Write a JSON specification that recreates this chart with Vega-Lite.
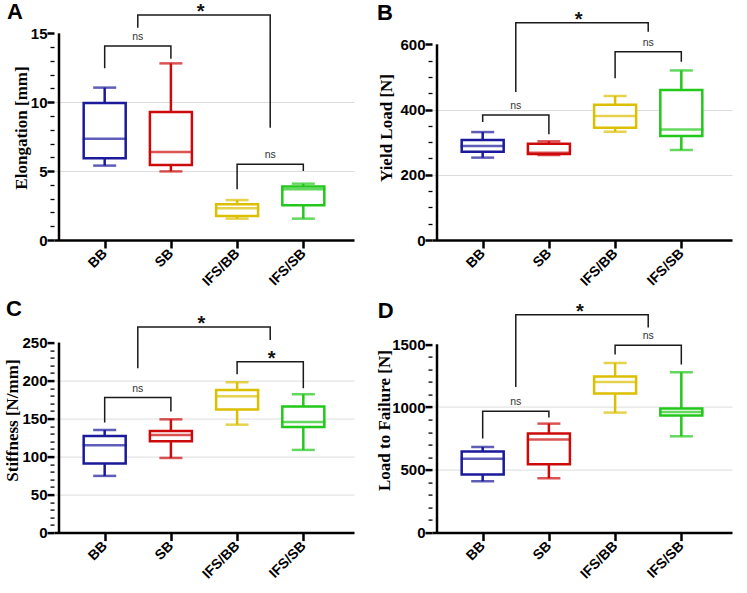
{
  "$schema": "https://vega.github.io/schema/vega-lite/v6.json",
  "background": "white",
  "padding": {"top": 1, "left": 3, "right": 5, "bottom": 5},
  "config": {
    "view": {"stroke": null},
    "axis": {
      "labelFont": "Liberation Sans", "labelFontWeight": "bold", "labelFontSize": 15, "labelColor": "black",
      "tickColor": "black", "domainColor": "black", "domainWidth": 2.5,
      "titleFont": "Liberation Serif", "titleFontSize": 17, "titleFontWeight": "bold", "titleColor": "black",
      "gridColor": "#dddddd", "gridWidth": 1, "labelOverlap": false
    },
    "title": {"font": "Liberation Sans", "fontSize": 22, "fontWeight": "bold", "color": "black", "anchor": "start", "frame": "group"}
  },
  "datasets": {
    "boxes": [
      {"panel": "A", "group": "BB", "idx": 1, "min": 5.4, "q1": 5.93, "median": 7.35, "q3": 9.94, "max": 11.06},
      {"panel": "A", "group": "SB", "idx": 2, "min": 4.98, "q1": 5.44, "median": 6.39, "q3": 9.29, "max": 12.82},
      {"panel": "A", "group": "IFS/BB", "idx": 3, "min": 1.55, "q1": 1.74, "median": 2.3, "q3": 2.59, "max": 2.9},
      {"panel": "A", "group": "IFS/SB", "idx": 4, "min": 1.55, "q1": 2.52, "median": 3.68, "q3": 3.88, "max": 4.09},
      {"panel": "B", "group": "BB", "idx": 1, "min": 252.6, "q1": 271, "median": 288.2, "q3": 306.6, "max": 331},
      {"panel": "B", "group": "SB", "idx": 2, "min": 260.6, "q1": 263.7, "median": 267.8, "q3": 295.5, "max": 302.6},
      {"panel": "B", "group": "IFS/BB", "idx": 3, "min": 332, "q1": 344.5, "median": 380, "q3": 415, "max": 441.6},
      {"panel": "B", "group": "IFS/SB", "idx": 4, "min": 276, "q1": 319, "median": 339, "q3": 460, "max": 520},
      {"panel": "C", "group": "BB", "idx": 1, "min": 74.6, "q1": 90.8, "median": 114.9, "q3": 127.2, "max": 135},
      {"panel": "C", "group": "SB", "idx": 2, "min": 98.2, "q1": 120.2, "median": 128.5, "q3": 133.8, "max": 149},
      {"panel": "C", "group": "IFS/BB", "idx": 3, "min": 142, "q1": 161.8, "median": 179.4, "q3": 187.7, "max": 197.8},
      {"panel": "C", "group": "IFS/SB", "idx": 4, "min": 108.8, "q1": 139, "median": 145.6, "q3": 165.8, "max": 182},
      {"panel": "D", "group": "BB", "idx": 1, "min": 409, "q1": 462, "median": 589, "q3": 645, "max": 682},
      {"panel": "D", "group": "SB", "idx": 2, "min": 432.7, "q1": 544, "median": 740.7, "q3": 788.5, "max": 868},
      {"panel": "D", "group": "IFS/BB", "idx": 3, "min": 955.8, "q1": 1107, "median": 1200, "q3": 1242.5, "max": 1351},
      {"panel": "D", "group": "IFS/SB", "idx": 4, "min": 767, "q1": 932, "median": 961, "q3": 987.6, "max": 1277}
    ],
    "axisline": [
      {"panel": "A", "bottom": 0, "top": 15}, {"panel": "B", "bottom": 0, "top": 600}, {"panel": "C", "bottom": 0, "top": 250}, {"panel": "D", "bottom": 0, "top": 1500}
    ],
    "brackets": [
      {"panel": "A", "id": "a1", "o": 1, "x": 1, "y": 12.46}, {"panel": "A", "id": "a1", "o": 2, "x": 1, "y": 14.08}, {"panel": "A", "id": "a1", "o": 3, "x": 2, "y": 14.08}, {"panel": "A", "id": "a1", "o": 4, "x": 2, "y": 13.16},
      {"panel": "A", "id": "a2", "o": 1, "x": 1.5, "y": 15.41}, {"panel": "A", "id": "a2", "o": 2, "x": 1.5, "y": 16.33}, {"panel": "A", "id": "a2", "o": 3, "x": 3.5, "y": 16.33}, {"panel": "A", "id": "a2", "o": 4, "x": 3.5, "y": 8.15},
      {"panel": "A", "id": "a3", "o": 1, "x": 3, "y": 3.68}, {"panel": "A", "id": "a3", "o": 2, "x": 3, "y": 5.49}, {"panel": "A", "id": "a3", "o": 3, "x": 4, "y": 5.49}, {"panel": "A", "id": "a3", "o": 4, "x": 4, "y": 5.0},
      {"panel": "B", "id": "b1", "o": 1, "x": 1, "y": 362}, {"panel": "B", "id": "b1", "o": 2, "x": 1, "y": 383}, {"panel": "B", "id": "b1", "o": 3, "x": 2, "y": 383}, {"panel": "B", "id": "b1", "o": 4, "x": 2, "y": 324},
      {"panel": "B", "id": "b2", "o": 1, "x": 1.5, "y": 454}, {"panel": "B", "id": "b2", "o": 2, "x": 1.5, "y": 666}, {"panel": "B", "id": "b2", "o": 3, "x": 3.5, "y": 666}, {"panel": "B", "id": "b2", "o": 4, "x": 3.5, "y": 639},
      {"panel": "B", "id": "b3", "o": 1, "x": 3, "y": 496}, {"panel": "B", "id": "b3", "o": 2, "x": 3, "y": 577.5}, {"panel": "B", "id": "b3", "o": 3, "x": 4, "y": 577.5}, {"panel": "B", "id": "b3", "o": 4, "x": 4, "y": 547},
      {"panel": "C", "id": "c1", "o": 1, "x": 1, "y": 144.7}, {"panel": "C", "id": "c1", "o": 2, "x": 1, "y": 177.6}, {"panel": "C", "id": "c1", "o": 3, "x": 2, "y": 177.6}, {"panel": "C", "id": "c1", "o": 4, "x": 2, "y": 159.2},
      {"panel": "C", "id": "c2", "o": 1, "x": 1.5, "y": 216.2}, {"panel": "C", "id": "c2", "o": 2, "x": 1.5, "y": 270.6}, {"panel": "C", "id": "c2", "o": 3, "x": 3.5, "y": 270.6}, {"panel": "C", "id": "c2", "o": 4, "x": 3.5, "y": 253.5},
      {"panel": "C", "id": "c3", "o": 1, "x": 3, "y": 208.3}, {"panel": "C", "id": "c3", "o": 2, "x": 3, "y": 224.6}, {"panel": "C", "id": "c3", "o": 3, "x": 4, "y": 224.6}, {"panel": "C", "id": "c3", "o": 4, "x": 4, "y": 190},
      {"panel": "D", "id": "d1", "o": 1, "x": 1, "y": 749}, {"panel": "D", "id": "d1", "o": 2, "x": 1, "y": 966}, {"panel": "D", "id": "d1", "o": 3, "x": 2, "y": 966}, {"panel": "D", "id": "d1", "o": 4, "x": 2, "y": 916},
      {"panel": "D", "id": "d2", "o": 1, "x": 1.5, "y": 1160}, {"panel": "D", "id": "d2", "o": 2, "x": 1.5, "y": 1736}, {"panel": "D", "id": "d2", "o": 3, "x": 3.5, "y": 1736}, {"panel": "D", "id": "d2", "o": 4, "x": 3.5, "y": 1633},
      {"panel": "D", "id": "d3", "o": 1, "x": 3, "y": 1418}, {"panel": "D", "id": "d3", "o": 2, "x": 3, "y": 1492}, {"panel": "D", "id": "d3", "o": 3, "x": 4, "y": 1492}, {"panel": "D", "id": "d3", "o": 4, "x": 4, "y": 1338}
    ],
    "labels": [
      {"panel": "A", "x": 1.5, "y": 14.08, "label": "ns"}, {"panel": "A", "x": 2.45, "y": 16.33, "label": "*"}, {"panel": "A", "x": 3.5, "y": 5.49, "label": "ns"},
      {"panel": "B", "x": 1.5, "y": 383, "label": "ns"}, {"panel": "B", "x": 2.45, "y": 666, "label": "*"}, {"panel": "B", "x": 3.5, "y": 577.5, "label": "ns"},
      {"panel": "C", "x": 1.5, "y": 177.6, "label": "ns"}, {"panel": "C", "x": 2.46, "y": 270.6, "label": "*"}, {"panel": "C", "x": 3.52, "y": 224.6, "label": "*"},
      {"panel": "D", "x": 1.5, "y": 966, "label": "ns"}, {"panel": "D", "x": 2.47, "y": 1736, "label": "*"}, {"panel": "D", "x": 3.5, "y": 1492, "label": "ns"}
    ]
  },
  "columns": 2,
  "spacing": {"row": 67.6, "column": 78},
  "bounds": "flush",
  "concat": [
    {
      "width": 300, "height": 225,
      "title": {"text": "A", "dx": -47, "dy": 26.3},
      "layer": [
        {"data": {"name": "boxes"}, "transform": [{"filter": "datum.panel === 'A'"}],
         "mark": {"type": "rule", "strokeWidth": 2.5},
         "encoding": {
           "x": {"field": "idx", "type": "quantitative", "scale": {"domain": [0.31, 4.69], "nice": false, "zero": false},
                 "axis": {"values": [1, 2, 3, 4], "tickCount": 100, "labelExpr": "['','BB','SB','IFS/BB','IFS/SB'][datum.value]", "labelAngle": -45, "labelAlign": "right", "labelBaseline": "middle", "labelFontSize": 14, "labelPadding": 3, "tickSize": 8, "tickWidth": 2.5, "grid": false, "title": null}},
           "y": {"field": "min", "type": "quantitative", "scale": {"domain": [0, 16.33], "nice": false},
                 "axis": {"title": "Elongation [mm]", "titlePadding": 0, "domain": false, "labelPadding": 0, "tickCount": 100, "format": "d",
                          "values": [0,1,2,3,4,5,6,7,8,9,10,11,12,13,14,15],
                          "labelExpr": "datum.value % 5 === 0 ? datum.label : ''",
                          "tickSize": {"condition": {"test": "datum.value % 5 === 0", "value": 7}, "value": 4},
                          "tickWidth": {"condition": {"test": "datum.value % 5 === 0", "value": 2.5}, "value": 1.3},
                          "grid": true,
                          "gridOpacity": {"condition": {"test": "datum.value % 5 === 0 && datum.value > 0 && datum.value < 15", "value": 1}, "value": 0}}},
           "y2": {"field": "max"},
           "color": {"field": "group", "type": "nominal", "scale": {"domain": ["BB", "SB", "IFS/BB", "IFS/SB"], "range": ["#1a1a9a", "#cc0a0a", "#dcbf00", "#22c81a"]}, "legend": null}
         }},
        {"data": {"name": "boxes"}, "transform": [{"filter": "datum.panel === 'A'"}],
         "mark": {"type": "bar", "width": 42, "fill": "white", "strokeWidth": 2.5},
         "encoding": {
           "x": {"field": "idx", "type": "quantitative"},
           "y": {"field": "q1", "type": "quantitative"},
           "y2": {"field": "q3"},
           "stroke": {"field": "group", "type": "nominal", "scale": {"domain": ["BB", "SB", "IFS/BB", "IFS/SB"], "range": ["#1a1a9a", "#cc0a0a", "#dcbf00", "#22c81a"]}, "legend": null}
         }},
        {"data": {"name": "boxes"}, "transform": [{"filter": "datum.panel === 'A'"}],
         "mark": {"type": "tick", "orient": "horizontal", "size": 44, "thickness": 2.5},
         "encoding": {"x": {"field": "idx", "type": "quantitative"}, "y": {"field": "median", "type": "quantitative"}, "color": {"field": "group", "type": "nominal", "legend": null}}},
        {"data": {"name": "boxes"}, "transform": [{"filter": "datum.panel === 'A'"}],
         "mark": {"type": "tick", "orient": "horizontal", "size": 23, "thickness": 2.5},
         "encoding": {"x": {"field": "idx", "type": "quantitative"}, "y": {"field": "min", "type": "quantitative"}, "color": {"field": "group", "type": "nominal", "legend": null}}},
        {"data": {"name": "boxes"}, "transform": [{"filter": "datum.panel === 'A'"}],
         "mark": {"type": "tick", "orient": "horizontal", "size": 23, "thickness": 2.5},
         "encoding": {"x": {"field": "idx", "type": "quantitative"}, "y": {"field": "max", "type": "quantitative"}, "color": {"field": "group", "type": "nominal", "legend": null}}},
        {"data": {"name": "axisline"}, "transform": [{"filter": "datum.panel === 'A'"}],
         "mark": {"type": "rule", "color": "black", "strokeWidth": 2.5},
         "encoding": {"x": {"datum": 0.31, "type": "quantitative"}, "y": {"field": "bottom", "type": "quantitative"}, "y2": {"field": "top"}}},
        {"data": {"name": "brackets"}, "transform": [{"filter": "datum.panel === 'A'"}],
         "mark": {"type": "line", "color": "#1a1a1a", "strokeWidth": 1.5, "clip": false},
         "encoding": {"x": {"field": "x", "type": "quantitative"}, "y": {"field": "y", "type": "quantitative"}, "detail": {"field": "id"}, "order": {"field": "o"}}},
        {"data": {"name": "labels"}, "transform": [{"filter": "datum.panel === 'A' && datum.label === 'ns'"}],
         "mark": {"type": "text", "font": "Liberation Sans", "fontSize": 10.5, "color": "#333333", "baseline": "alphabetic", "dy": -6},
         "encoding": {"x": {"field": "x", "type": "quantitative"}, "y": {"field": "y", "type": "quantitative"}, "text": {"field": "label"}}},
        {"data": {"name": "labels"}, "transform": [{"filter": "datum.panel === 'A' && datum.label === '*'"}],
         "mark": {"type": "text", "font": "Liberation Sans", "fontSize": 20, "fontWeight": "bold", "color": "#111111", "baseline": "alphabetic", "dy": 3},
         "encoding": {"x": {"field": "x", "type": "quantitative"}, "y": {"field": "y", "type": "quantitative"}, "text": {"field": "label"}}}
      ]
    },
    {
      "width": 300, "height": 225,
      "title": {"text": "B", "dx": -55, "dy": 19.3},
      "layer": [
        {"data": {"name": "boxes"}, "transform": [{"filter": "datum.panel === 'B'"}],
         "mark": {"type": "rule", "strokeWidth": 2.5},
         "encoding": {
           "x": {"field": "idx", "type": "quantitative", "scale": {"domain": [0.31, 4.69], "nice": false, "zero": false},
                 "axis": {"values": [1, 2, 3, 4], "tickCount": 100, "labelExpr": "['','BB','SB','IFS/BB','IFS/SB'][datum.value]", "labelAngle": -45, "labelAlign": "right", "labelBaseline": "middle", "labelFontSize": 14, "labelPadding": 3, "tickSize": 8, "tickWidth": 2.5, "grid": false, "title": null}},
           "y": {"field": "min", "type": "quantitative", "scale": {"domain": [0, 690], "nice": false},
                 "axis": {"title": "Yield Load [N]", "titlePadding": 4.5, "domain": false, "labelPadding": 0, "tickCount": 100, "format": "d",
                          "values": [0,50,100,150,200,250,300,350,400,450,500,550,600],
                          "labelExpr": "datum.value % 200 === 0 ? datum.label : ''",
                          "tickSize": {"condition": {"test": "datum.value % 200 === 0", "value": 7}, "value": 4},
                          "tickWidth": {"condition": {"test": "datum.value % 200 === 0", "value": 2.5}, "value": 1.3},
                          "grid": true,
                          "gridOpacity": {"condition": {"test": "datum.value % 200 === 0 && datum.value > 0 && datum.value < 600", "value": 1}, "value": 0}}},
           "y2": {"field": "max"},
           "color": {"field": "group", "type": "nominal", "scale": {"domain": ["BB", "SB", "IFS/BB", "IFS/SB"], "range": ["#1a1a9a", "#cc0a0a", "#dcbf00", "#22c81a"]}, "legend": null}
         }},
        {"data": {"name": "boxes"}, "transform": [{"filter": "datum.panel === 'B'"}],
         "mark": {"type": "bar", "width": 42, "fill": "white", "strokeWidth": 2.5},
         "encoding": {
           "x": {"field": "idx", "type": "quantitative"},
           "y": {"field": "q1", "type": "quantitative"},
           "y2": {"field": "q3"},
           "stroke": {"field": "group", "type": "nominal", "scale": {"domain": ["BB", "SB", "IFS/BB", "IFS/SB"], "range": ["#1a1a9a", "#cc0a0a", "#dcbf00", "#22c81a"]}, "legend": null}
         }},
        {"data": {"name": "boxes"}, "transform": [{"filter": "datum.panel === 'B'"}],
         "mark": {"type": "tick", "orient": "horizontal", "size": 44, "thickness": 2.5},
         "encoding": {"x": {"field": "idx", "type": "quantitative"}, "y": {"field": "median", "type": "quantitative"}, "color": {"field": "group", "type": "nominal", "legend": null}}},
        {"data": {"name": "boxes"}, "transform": [{"filter": "datum.panel === 'B'"}],
         "mark": {"type": "tick", "orient": "horizontal", "size": 23, "thickness": 2.5},
         "encoding": {"x": {"field": "idx", "type": "quantitative"}, "y": {"field": "min", "type": "quantitative"}, "color": {"field": "group", "type": "nominal", "legend": null}}},
        {"data": {"name": "boxes"}, "transform": [{"filter": "datum.panel === 'B'"}],
         "mark": {"type": "tick", "orient": "horizontal", "size": 23, "thickness": 2.5},
         "encoding": {"x": {"field": "idx", "type": "quantitative"}, "y": {"field": "max", "type": "quantitative"}, "color": {"field": "group", "type": "nominal", "legend": null}}},
        {"data": {"name": "axisline"}, "transform": [{"filter": "datum.panel === 'B'"}],
         "mark": {"type": "rule", "color": "black", "strokeWidth": 2.5},
         "encoding": {"x": {"datum": 0.31, "type": "quantitative"}, "y": {"field": "bottom", "type": "quantitative"}, "y2": {"field": "top"}}},
        {"data": {"name": "brackets"}, "transform": [{"filter": "datum.panel === 'B'"}],
         "mark": {"type": "line", "color": "#1a1a1a", "strokeWidth": 1.5, "clip": false},
         "encoding": {"x": {"field": "x", "type": "quantitative"}, "y": {"field": "y", "type": "quantitative"}, "detail": {"field": "id"}, "order": {"field": "o"}}},
        {"data": {"name": "labels"}, "transform": [{"filter": "datum.panel === 'B' && datum.label === 'ns'"}],
         "mark": {"type": "text", "font": "Liberation Sans", "fontSize": 10.5, "color": "#333333", "baseline": "alphabetic", "dy": -6},
         "encoding": {"x": {"field": "x", "type": "quantitative"}, "y": {"field": "y", "type": "quantitative"}, "text": {"field": "label"}}},
        {"data": {"name": "labels"}, "transform": [{"filter": "datum.panel === 'B' && datum.label === '*'"}],
         "mark": {"type": "text", "font": "Liberation Sans", "fontSize": 20, "fontWeight": "bold", "color": "#111111", "baseline": "alphabetic", "dy": 3},
         "encoding": {"x": {"field": "x", "type": "quantitative"}, "y": {"field": "y", "type": "quantitative"}, "text": {"field": "label"}}}
      ]
    },
    {
      "width": 300, "height": 225,
      "title": {"text": "C", "dx": -48, "dy": 17},
      "layer": [
        {"data": {"name": "boxes"}, "transform": [{"filter": "datum.panel === 'C'"}],
         "mark": {"type": "rule", "strokeWidth": 2.5},
         "encoding": {
           "x": {"field": "idx", "type": "quantitative", "scale": {"domain": [0.31, 4.69], "nice": false, "zero": false},
                 "axis": {"values": [1, 2, 3, 4], "tickCount": 100, "labelExpr": "['','BB','SB','IFS/BB','IFS/SB'][datum.value]", "labelAngle": -45, "labelAlign": "right", "labelBaseline": "middle", "labelFontSize": 14, "labelPadding": 3, "tickSize": 8, "tickWidth": 2.5, "grid": false, "title": null}},
           "y": {"field": "min", "type": "quantitative", "scale": {"domain": [0, 296], "nice": false},
                 "axis": {"title": "Stiffness [N/mm]", "titlePadding": 0.5, "domain": false, "labelPadding": 0, "tickCount": 100, "format": "d",
                          "values": [0,10,20,30,40,50,60,70,80,90,100,110,120,130,140,150,160,170,180,190,200,210,220,230,240,250],
                          "labelExpr": "datum.value % 50 === 0 ? datum.label : ''",
                          "tickSize": {"condition": {"test": "datum.value % 50 === 0", "value": 7}, "value": 4},
                          "tickWidth": {"condition": {"test": "datum.value % 50 === 0", "value": 2.5}, "value": 1.3},
                          "grid": true,
                          "gridOpacity": {"condition": {"test": "datum.value % 50 === 0 && datum.value > 0 && datum.value < 250", "value": 1}, "value": 0}}},
           "y2": {"field": "max"},
           "color": {"field": "group", "type": "nominal", "scale": {"domain": ["BB", "SB", "IFS/BB", "IFS/SB"], "range": ["#1a1a9a", "#cc0a0a", "#dcbf00", "#22c81a"]}, "legend": null}
         }},
        {"data": {"name": "boxes"}, "transform": [{"filter": "datum.panel === 'C'"}],
         "mark": {"type": "bar", "width": 42, "fill": "white", "strokeWidth": 2.5},
         "encoding": {
           "x": {"field": "idx", "type": "quantitative"},
           "y": {"field": "q1", "type": "quantitative"},
           "y2": {"field": "q3"},
           "stroke": {"field": "group", "type": "nominal", "scale": {"domain": ["BB", "SB", "IFS/BB", "IFS/SB"], "range": ["#1a1a9a", "#cc0a0a", "#dcbf00", "#22c81a"]}, "legend": null}
         }},
        {"data": {"name": "boxes"}, "transform": [{"filter": "datum.panel === 'C'"}],
         "mark": {"type": "tick", "orient": "horizontal", "size": 44, "thickness": 2.5},
         "encoding": {"x": {"field": "idx", "type": "quantitative"}, "y": {"field": "median", "type": "quantitative"}, "color": {"field": "group", "type": "nominal", "legend": null}}},
        {"data": {"name": "boxes"}, "transform": [{"filter": "datum.panel === 'C'"}],
         "mark": {"type": "tick", "orient": "horizontal", "size": 23, "thickness": 2.5},
         "encoding": {"x": {"field": "idx", "type": "quantitative"}, "y": {"field": "min", "type": "quantitative"}, "color": {"field": "group", "type": "nominal", "legend": null}}},
        {"data": {"name": "boxes"}, "transform": [{"filter": "datum.panel === 'C'"}],
         "mark": {"type": "tick", "orient": "horizontal", "size": 23, "thickness": 2.5},
         "encoding": {"x": {"field": "idx", "type": "quantitative"}, "y": {"field": "max", "type": "quantitative"}, "color": {"field": "group", "type": "nominal", "legend": null}}},
        {"data": {"name": "axisline"}, "transform": [{"filter": "datum.panel === 'C'"}],
         "mark": {"type": "rule", "color": "black", "strokeWidth": 2.5},
         "encoding": {"x": {"datum": 0.31, "type": "quantitative"}, "y": {"field": "bottom", "type": "quantitative"}, "y2": {"field": "top"}}},
        {"data": {"name": "brackets"}, "transform": [{"filter": "datum.panel === 'C'"}],
         "mark": {"type": "line", "color": "#1a1a1a", "strokeWidth": 1.5, "clip": false},
         "encoding": {"x": {"field": "x", "type": "quantitative"}, "y": {"field": "y", "type": "quantitative"}, "detail": {"field": "id"}, "order": {"field": "o"}}},
        {"data": {"name": "labels"}, "transform": [{"filter": "datum.panel === 'C' && datum.label === 'ns'"}],
         "mark": {"type": "text", "font": "Liberation Sans", "fontSize": 10.5, "color": "#333333", "baseline": "alphabetic", "dy": -6},
         "encoding": {"x": {"field": "x", "type": "quantitative"}, "y": {"field": "y", "type": "quantitative"}, "text": {"field": "label"}}},
        {"data": {"name": "labels"}, "transform": [{"filter": "datum.panel === 'C' && datum.label === '*'"}],
         "mark": {"type": "text", "font": "Liberation Sans", "fontSize": 20, "fontWeight": "bold", "color": "#111111", "baseline": "alphabetic", "dy": 3},
         "encoding": {"x": {"field": "x", "type": "quantitative"}, "y": {"field": "y", "type": "quantitative"}, "text": {"field": "label"}}}
      ]
    },
    {
      "width": 300, "height": 225,
      "title": {"text": "D", "dx": -54.3, "dy": 25},
      "layer": [
        {"data": {"name": "boxes"}, "transform": [{"filter": "datum.panel === 'D'"}],
         "mark": {"type": "rule", "strokeWidth": 2.5},
         "encoding": {
           "x": {"field": "idx", "type": "quantitative", "scale": {"domain": [0.31, 4.69], "nice": false, "zero": false},
                 "axis": {"values": [1, 2, 3, 4], "tickCount": 100, "labelExpr": "['','BB','SB','IFS/BB','IFS/SB'][datum.value]", "labelAngle": -45, "labelAlign": "right", "labelBaseline": "middle", "labelFontSize": 14, "labelPadding": 3, "tickSize": 8, "tickWidth": 2.5, "grid": false, "title": null}},
           "y": {"field": "min", "type": "quantitative", "scale": {"domain": [0, 1792], "nice": false},
                 "axis": {"title": "Load to Failure [N]", "titlePadding": -1.5, "domain": false, "labelPadding": 0, "tickCount": 100, "format": "d",
                          "values": [0,100,200,300,400,500,600,700,800,900,1000,1100,1200,1300,1400,1500],
                          "labelExpr": "datum.value % 500 === 0 ? datum.label : ''",
                          "tickSize": {"condition": {"test": "datum.value % 500 === 0", "value": 7}, "value": 4},
                          "tickWidth": {"condition": {"test": "datum.value % 500 === 0", "value": 2.5}, "value": 1.3},
                          "grid": true,
                          "gridOpacity": {"condition": {"test": "datum.value % 500 === 0 && datum.value > 0 && datum.value < 1500", "value": 1}, "value": 0}}},
           "y2": {"field": "max"},
           "color": {"field": "group", "type": "nominal", "scale": {"domain": ["BB", "SB", "IFS/BB", "IFS/SB"], "range": ["#1a1a9a", "#cc0a0a", "#dcbf00", "#22c81a"]}, "legend": null}
         }},
        {"data": {"name": "boxes"}, "transform": [{"filter": "datum.panel === 'D'"}],
         "mark": {"type": "bar", "width": 42, "fill": "white", "strokeWidth": 2.5},
         "encoding": {
           "x": {"field": "idx", "type": "quantitative"},
           "y": {"field": "q1", "type": "quantitative"},
           "y2": {"field": "q3"},
           "stroke": {"field": "group", "type": "nominal", "scale": {"domain": ["BB", "SB", "IFS/BB", "IFS/SB"], "range": ["#1a1a9a", "#cc0a0a", "#dcbf00", "#22c81a"]}, "legend": null}
         }},
        {"data": {"name": "boxes"}, "transform": [{"filter": "datum.panel === 'D'"}],
         "mark": {"type": "tick", "orient": "horizontal", "size": 44, "thickness": 2.5},
         "encoding": {"x": {"field": "idx", "type": "quantitative"}, "y": {"field": "median", "type": "quantitative"}, "color": {"field": "group", "type": "nominal", "legend": null}}},
        {"data": {"name": "boxes"}, "transform": [{"filter": "datum.panel === 'D'"}],
         "mark": {"type": "tick", "orient": "horizontal", "size": 23, "thickness": 2.5},
         "encoding": {"x": {"field": "idx", "type": "quantitative"}, "y": {"field": "min", "type": "quantitative"}, "color": {"field": "group", "type": "nominal", "legend": null}}},
        {"data": {"name": "boxes"}, "transform": [{"filter": "datum.panel === 'D'"}],
         "mark": {"type": "tick", "orient": "horizontal", "size": 23, "thickness": 2.5},
         "encoding": {"x": {"field": "idx", "type": "quantitative"}, "y": {"field": "max", "type": "quantitative"}, "color": {"field": "group", "type": "nominal", "legend": null}}},
        {"data": {"name": "axisline"}, "transform": [{"filter": "datum.panel === 'D'"}],
         "mark": {"type": "rule", "color": "black", "strokeWidth": 2.5},
         "encoding": {"x": {"datum": 0.31, "type": "quantitative"}, "y": {"field": "bottom", "type": "quantitative"}, "y2": {"field": "top"}}},
        {"data": {"name": "brackets"}, "transform": [{"filter": "datum.panel === 'D'"}],
         "mark": {"type": "line", "color": "#1a1a1a", "strokeWidth": 1.5, "clip": false},
         "encoding": {"x": {"field": "x", "type": "quantitative"}, "y": {"field": "y", "type": "quantitative"}, "detail": {"field": "id"}, "order": {"field": "o"}}},
        {"data": {"name": "labels"}, "transform": [{"filter": "datum.panel === 'D' && datum.label === 'ns'"}],
         "mark": {"type": "text", "font": "Liberation Sans", "fontSize": 10.5, "color": "#333333", "baseline": "alphabetic", "dy": -6},
         "encoding": {"x": {"field": "x", "type": "quantitative"}, "y": {"field": "y", "type": "quantitative"}, "text": {"field": "label"}}},
        {"data": {"name": "labels"}, "transform": [{"filter": "datum.panel === 'D' && datum.label === '*'"}],
         "mark": {"type": "text", "font": "Liberation Sans", "fontSize": 20, "fontWeight": "bold", "color": "#111111", "baseline": "alphabetic", "dy": 3},
         "encoding": {"x": {"field": "x", "type": "quantitative"}, "y": {"field": "y", "type": "quantitative"}, "text": {"field": "label"}}}
      ]
    }
  ]
}
